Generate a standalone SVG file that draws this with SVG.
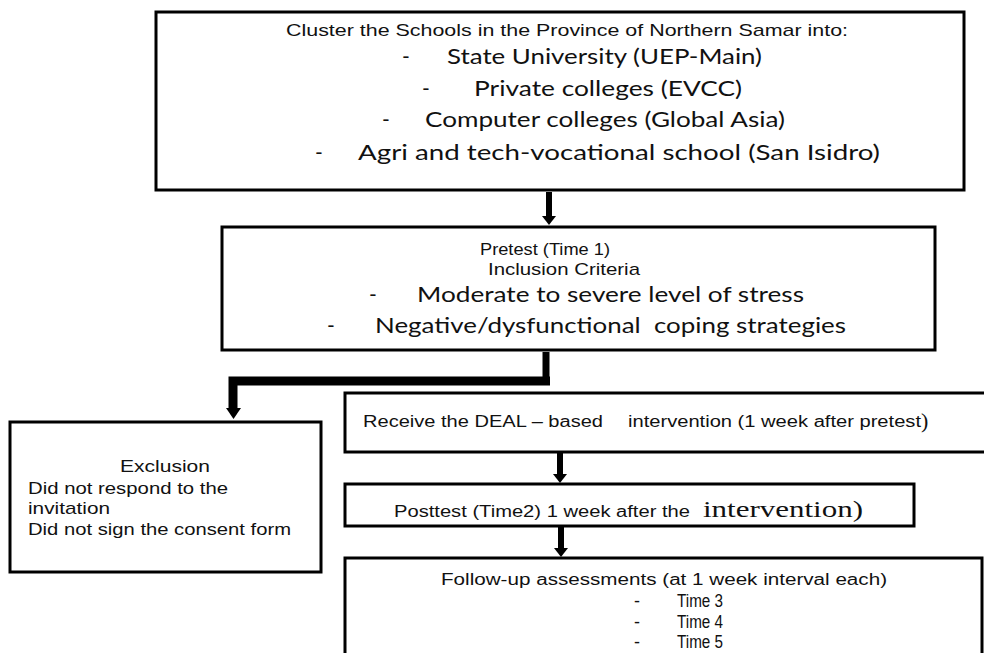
<svg xmlns="http://www.w3.org/2000/svg" width="984" height="653" viewBox="0 0 984 653">
<style>
.box{fill:#fff;stroke:#000;stroke-width:3}
.a{font-family:"Liberation Sans",Arial,sans-serif;fill:#111}
.c{font-family:Lato,"Open Sans",sans-serif;fill:#111}
.t{font-family:"Liberation Serif","Times New Roman",serif;fill:#111}
.ln{stroke:#000;fill:none}
</style>
<rect width="984" height="653" fill="#fff"/>

<g id="connectors">
<line class="ln" x1="549" y1="192" x2="549" y2="217" stroke-width="6"/>
<path d="M542,216 L556,216 L549,225 Z"/>
<line class="ln" x1="546" y1="352" x2="546" y2="382" stroke-width="7"/>
<path class="ln" d="M550,381 L233,381 L233,410" stroke-width="9"/>
<path d="M226,408 L241,408 L233.5,419 Z"/>
<line class="ln" x1="560" y1="453" x2="560" y2="475" stroke-width="6"/>
<path d="M553,474 L567,474 L560,483 Z"/>
<line class="ln" x1="561" y1="527" x2="561" y2="549" stroke-width="6"/>
<path d="M554,548 L568,548 L561,557 Z"/>
</g>

<g id="n-cluster">
<rect class="box" x="156" y="12" width="808" height="178"/>
<text class="a" x="286" y="36" font-size="17" textLength="562" lengthAdjust="spacingAndGlyphs">Cluster the Schools in the Province of Northern Samar into:</text>
<text class="c" font-size="21">
<tspan x="402" y="64">-</tspan><tspan x="447" y="64" textLength="315" lengthAdjust="spacingAndGlyphs">State University (UEP-Main)</tspan>
<tspan x="422" y="96">-</tspan><tspan x="474" y="96" textLength="268" lengthAdjust="spacingAndGlyphs">Private colleges (EVCC)</tspan>
<tspan x="382" y="127">-</tspan><tspan x="425" y="127" textLength="360" lengthAdjust="spacingAndGlyphs">Computer colleges (Global Asia)</tspan>
<tspan x="315" y="160">-</tspan><tspan x="358" y="160" textLength="522" lengthAdjust="spacingAndGlyphs">Agri and tech-vocational school (San Isidro)</tspan>
</text>
</g>

<g id="n-pretest">
<rect class="box" x="222" y="227" width="713" height="123"/>
<text class="a" x="480" y="255" font-size="17" textLength="130" lengthAdjust="spacingAndGlyphs">Pretest (Time 1)</text>
<text class="a" x="488" y="275" font-size="17" textLength="152" lengthAdjust="spacingAndGlyphs">Inclusion Criteria</text>
<text class="c" font-size="21">
<tspan x="369" y="302">-</tspan><tspan x="417" y="302" textLength="387" lengthAdjust="spacingAndGlyphs">Moderate to severe level of stress</tspan>
<tspan x="327" y="333">-</tspan><tspan x="375" y="333" textLength="471" lengthAdjust="spacingAndGlyphs">Negative/dysfunctional&#160; coping strategies</tspan>
</text>
</g>

<g id="n-exclusion">
<rect class="box" x="10" y="422" width="311" height="150"/>
<text class="a" x="120" y="472" font-size="17" textLength="90" lengthAdjust="spacingAndGlyphs">Exclusion</text>
<text class="a" x="28" y="494" font-size="17" textLength="200" lengthAdjust="spacingAndGlyphs">Did not respond to the</text>
<text class="a" x="28" y="514" font-size="17" textLength="82" lengthAdjust="spacingAndGlyphs">invitation</text>
<text class="a" x="28" y="535" font-size="17" textLength="263" lengthAdjust="spacingAndGlyphs">Did not sign the consent form</text>
</g>

<g id="n-receive">
<rect class="box" x="345" y="393" width="645" height="59"/>
<text class="a" x="363" y="427" font-size="16" textLength="240" lengthAdjust="spacingAndGlyphs">Receive the DEAL – based</text>
<text class="a" x="628" y="427" font-size="16" textLength="293" lengthAdjust="spacingAndGlyphs">intervention (1 week after pretest</text>
<text class="t" x="921" y="428" font-size="22">)</text>
</g>

<g id="n-posttest">
<rect class="box" x="345" y="484" width="569" height="42"/>
<text class="a" x="394" y="517" font-size="16" textLength="296" lengthAdjust="spacingAndGlyphs">Posttest (Time2) 1 week after the</text>
<text class="t" x="703" y="517" font-size="24" textLength="160" lengthAdjust="spacingAndGlyphs">intervention)</text>
</g>

<g id="n-followup">
<rect class="box" x="345" y="558" width="637" height="100"/>
<text class="a" x="441" y="585" font-size="16" textLength="446" lengthAdjust="spacingAndGlyphs">Follow-up assessments (at 1 week interval each)</text>
<text class="a" font-size="18">
<tspan x="634" y="607">-</tspan><tspan x="677" y="607" textLength="46" lengthAdjust="spacingAndGlyphs">Time 3</tspan>
<tspan x="634" y="628">-</tspan><tspan x="677" y="628" textLength="46" lengthAdjust="spacingAndGlyphs">Time 4</tspan>
<tspan x="634" y="648">-</tspan><tspan x="677" y="648" textLength="46" lengthAdjust="spacingAndGlyphs">Time 5</tspan>
</text>
</g>
</svg>
